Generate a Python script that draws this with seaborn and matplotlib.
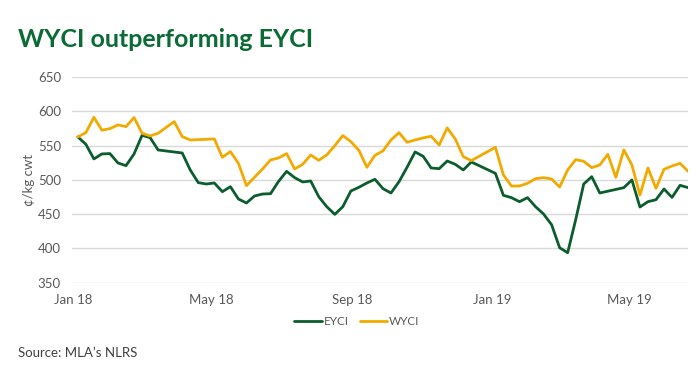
import pandas as pd
import numpy as np
import seaborn as sns
import matplotlib.pyplot as plt
import matplotlib.dates as mdates

# weekly saleyard indicators, c/kg cwt (None = no sale that week)
weeks = pd.date_range("2018-01-05", periods=77, freq="7D")
eyci = [562.8, 552.1, 530.7, 538.0, 538.5, 524.8, 520.9, 538.0, 565.2, 561.8,
        543.8, None, None, 539.4, 514.6, 496.1, 494.1, 495.6, 482.9, 490.2,
        472.2, 466.4, 476.6, 479.5, 480.0, 498.0, 512.6, 503.4, 497.1, 498.5,
        475.6, 461.0, 449.8, 461.0, 483.9, 489.3, 495.6, 501.0, 487.3, 481.0,
        497.5, 518.5, 540.9, 534.6, 517.5, 516.5, 527.7, 522.9, 514.6, 526.3,
        None, None, 509.7, 477.6, 474.2, 468.3, 474.2, 461.0, 450.3, 434.7,
        401.1, 393.8, 442.0, 494.1, 504.8, 481.0, None, None, 488.8, 500.0,
        460.5, 468.3, 471.2, 486.8, 474.6, 492.2, 488.8]
wyci = [562.8, 569.1, 591.5, 572.6, 575.0, 580.3, 577.9, 591.1, 568.2, 564.3,
        568.2, None, 585.2, 563.3, 558.4, None, None, 559.9, 533.1, 541.4,
        524.3, 491.7, 503.9, 516.0, 529.2, 532.1, 538.5, 516.0, 522.9, 536.5,
        528.7, 536.5, 550.1, 564.8, 556.0, 543.3, 518.5, 536.0, 542.4, 558.4,
        569.1, 555.0, 558.4, 561.4, 563.8, 551.1, 576.0, 559.9, 534.1, 528.2,
        None, None, 547.7, 507.3, 491.2, 491.2, 495.1, 501.9, 503.4, 501.4,
        489.7, 514.6, 529.7, 527.3, 518.0, 521.9, 537.5, 503.9, 543.8, 521.9,
        478.1, 517.5, 487.8, 515.6, 520.4, 524.3, 512.6]

df = pd.DataFrame({"week": weeks, "EYCI": eyci, "WYCI": wyci})
long = df.melt(id_vars="week", var_name="series", value_name="price").dropna()

green = "#0b5d2e"
amber = "#f2aa00"
grey = "#595959"

sns.set_style("white")
plt.rcParams["font.family"] = ["Lato", "DejaVu Sans"]

fig = plt.figure(figsize=(7, 3.73), dpi=100)
ax = fig.add_axes([0.103, 0.242, 0.880, 0.551])

sns.lineplot(data=long, x="week", y="price", hue="series",
             palette={"EYCI": green, "WYCI": amber}, linewidth=2.0,
             legend=False, ax=ax)

ax.set_ylim(350, 650)
ax.set_yticks(range(350, 651, 50))
ax.set_xlim(pd.Timestamp("2017-12-31"), pd.Timestamp("2019-06-21"))
ax.xaxis.set_major_locator(mdates.MonthLocator(bymonth=[1, 5, 9]))
ax.xaxis.set_major_formatter(mdates.DateFormatter("%b %y"))
ax.grid(axis="y", color="#d9d9d9", linewidth=1.0)
ax.set_axisbelow(True)
sns.despine(ax=ax, left=True, bottom=True)
ax.tick_params(length=0, labelsize=9.5, labelcolor=grey, pad=8)
ax.tick_params(axis="y", pad=8)
ax.set_xlabel("")
ax.set_ylabel("¢/kg cwt", fontsize=9.5, color=grey, labelpad=2)

handles = [plt.Line2D([], [], color=green, lw=2.0),
           plt.Line2D([], [], color=amber, lw=2.0)]
fig.legend(handles, ["EYCI", "WYCI"], loc="center", bbox_to_anchor=(0.51, 0.137),
           ncol=2, frameon=False, fontsize=8.5, handlelength=2.3,
           handletextpad=0.2, columnspacing=0.9, labelcolor=grey)

fig.text(0.026, 0.895, "WYCI outperforming EYCI", fontsize=18, fontweight="bold",
         color="#0a6b35", va="center")
fig.text(0.026, 0.054, "Source: MLA\u2019s NLRS", fontsize=9.5, color="#404040",
         va="center")

fig.savefig("out.png", dpi=100)
